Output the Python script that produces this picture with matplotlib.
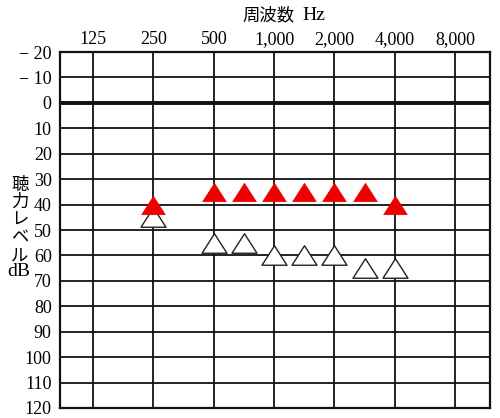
import numpy as np
import matplotlib
matplotlib.use('Agg')
import matplotlib.pyplot as plt
from matplotlib.path import Path

# ----------------------------------------------------------------
# data
# ----------------------------------------------------------------
grid_freqs  = [125, 250, 500, 1000, 2000, 4000, 8000]
grid_labels = ['125', '250', '500', '1,000', '2,000', '4,000', '8,000']

red_freqs   = [250, 500, 750, 1000, 1500, 2000, 3000, 4000]
red_db      = [40, 35, 35, 35, 35, 35, 35, 40]

white_freqs = [250, 500, 750, 1000, 1500, 2000, 3000, 4000]
white_db    = [45, 55, 55, 60, 60, 60, 65, 65]

db_ticks    = list(range(-20, 121, 10))

# ----------------------------------------------------------------
serif = ['Liberation Serif', 'DejaVu Serif']
jp = ['Noto Sans CJK JP', 'DejaVu Sans']

def xpos(f):
    # audiogram axis: octaves evenly spaced, half-octaves midway
    return np.interp(f, grid_freqs, np.arange(len(grid_freqs)))

# wide triangle marker
tri = Path([(0, 0.78), (-1, -0.78), (1, -0.78), (0, 0.78)],
           [Path.MOVETO, Path.LINETO, Path.LINETO, Path.CLOSEPOLY])

fig = plt.figure(figsize=(5.0, 4.18), dpi=100)
ax = fig.add_axes([60/500, 1 - 408/418, 430/500, 356/418])

ax.set_xlim(-0.55, 6.58)
ax.set_ylim(120, -20)

for x in xpos(grid_freqs):
    ax.axvline(x, color='#111111', lw=1.3, zorder=1)
for d in db_ticks:
    ax.axhline(d, color='#111111', lw=2.8 if d == 0 else 1.3, zorder=1)

ax.plot(xpos(white_freqs), white_db, ls='none', marker=tri, ms=18,
        mfc='white', mec='#222222', mew=1.0, zorder=3)
ax.plot(xpos(red_freqs), red_db, ls='none', marker=tri, ms=17,
        mfc='#ee0000', mec='#ee0000', mew=0.5, zorder=4)

for s in ax.spines.values():
    s.set_linewidth(1.6)
    s.set_color('#111111')

ax.xaxis.tick_top()
ax.set_xticks(xpos(grid_freqs))
ax.set_xticklabels(grid_labels, family=serif, fontsize=13)
ax.set_yticks(db_ticks)
ax.set_yticklabels([('\u2212' + ' ' + str(-d)) if d < 0 else str(d) for d in db_ticks],
                   family=serif, fontsize=13)
ax.tick_params(length=0, pad=6)
ax.tick_params(axis='x', pad=3)

# axis titles
fig.text(295/500, 1 - 15/418, '周波数', family=jp, fontsize=12.5,
         ha='right', va='center')
fig.text(302/500, 1 - 16/418, 'Hz', family=serif, fontsize=14,
         ha='left', va='center')
fig.text(20/500, 1 - 220/418, '聴\n力\nレ\nベ\nル', family=jp, fontsize=12.5,
         ha='center', va='center', linespacing=0.98)
fig.text(19/500, 1 - 271/418, 'dB', family=serif, fontsize=14,
         ha='center', va='center')

fig.savefig('out.png', dpi=100)
